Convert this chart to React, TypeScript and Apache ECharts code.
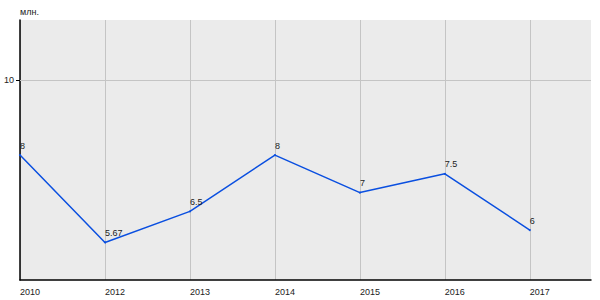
import React, { useEffect, useRef } from "react";
import * as echarts from "echarts";

const categories = ["2010", "2012", "2013", "2014", "2015", "2016", "2017"];
const values = [8, 5.67, 6.5, 8, 7, 7.5, 6];
const labels = ["8", "5.67", "6.5", "8", "7", "7.5", "6"];
const yTicks = [10];
const unitLabel = "млн.";

export default function App() {
  const ref = useRef<HTMLDivElement>(null);
  useEffect(() => {
    document.body.style.margin = "0";
    const chart = echarts.init(ref.current!, null, { renderer: "svg" });
    const font = "'Liberation Sans', Arial, sans-serif";
    chart.setOption({
      animation: false,
      backgroundColor: "#ffffff",
      grid: {
        left: 20,
        top: 20,
        right: 9,
        bottom: 20,
        show: true,
        backgroundColor: "#ebebeb",
        borderWidth: 0,
      },
      graphic: [
        {
          type: "text",
          left: 20,
          top: 7,
          style: { text: unitLabel, fontSize: 9, fontFamily: font, fill: "#222" },
        },
      ],
      xAxis: {
        type: "value",
        min: 0,
        max: 6.72,
        interval: 1,
        axisLine: { show: true, lineStyle: { color: "#000", width: 1.5 } },
        axisTick: { show: false },
        axisLabel: {
          fontSize: 9,
          fontFamily: font,
          color: "#222",
          align: "left",
          margin: 7,
          showMaxLabel: false,
          formatter: (v: number) => categories[Math.round(v)] ?? "",
        },
        splitLine: { show: true, showMaxLine: false, lineStyle: { color: "#c4c4c4", width: 1 } },
      },
      yAxis: {
        type: "value",
        min: 4.67,
        max: 11.6,
        axisLine: { show: true, lineStyle: { color: "#000", width: 1.5 } },
        axisTick: { show: true, length: 4, customValues: yTicks, lineStyle: { color: "#000" } },
        axisLabel: {
          fontSize: 9,
          fontFamily: font,
          color: "#222",
          margin: 6,
          customValues: yTicks,
        },
        splitLine: { show: false },
      },
      series: [
        {
          type: "line",
          data: values.map((v, i) => [i, v]),
          symbol: "circle",
          symbolSize: 2,
          showSymbol: true,
          itemStyle: { color: "#0a4fe0" },
          lineStyle: { color: "#0a4fe0", width: 1.5 },
          label: {
            show: true,
            position: "top",
            align: "left",
            distance: 4,
            fontSize: 9,
            fontFamily: font,
            color: "#222",
            formatter: (p: any) => labels[p.dataIndex],
          },
          markLine: {
            silent: true,
            symbol: "none",
            label: { show: false },
            lineStyle: { color: "#c4c4c4", type: "solid", width: 1 },
            data: yTicks.map((t) => ({ yAxis: t })),
          },
        },
      ],
    });
    return () => chart.dispose();
  }, []);
  return <div ref={ref} style={{ width: 600, height: 300 }} />;
}
